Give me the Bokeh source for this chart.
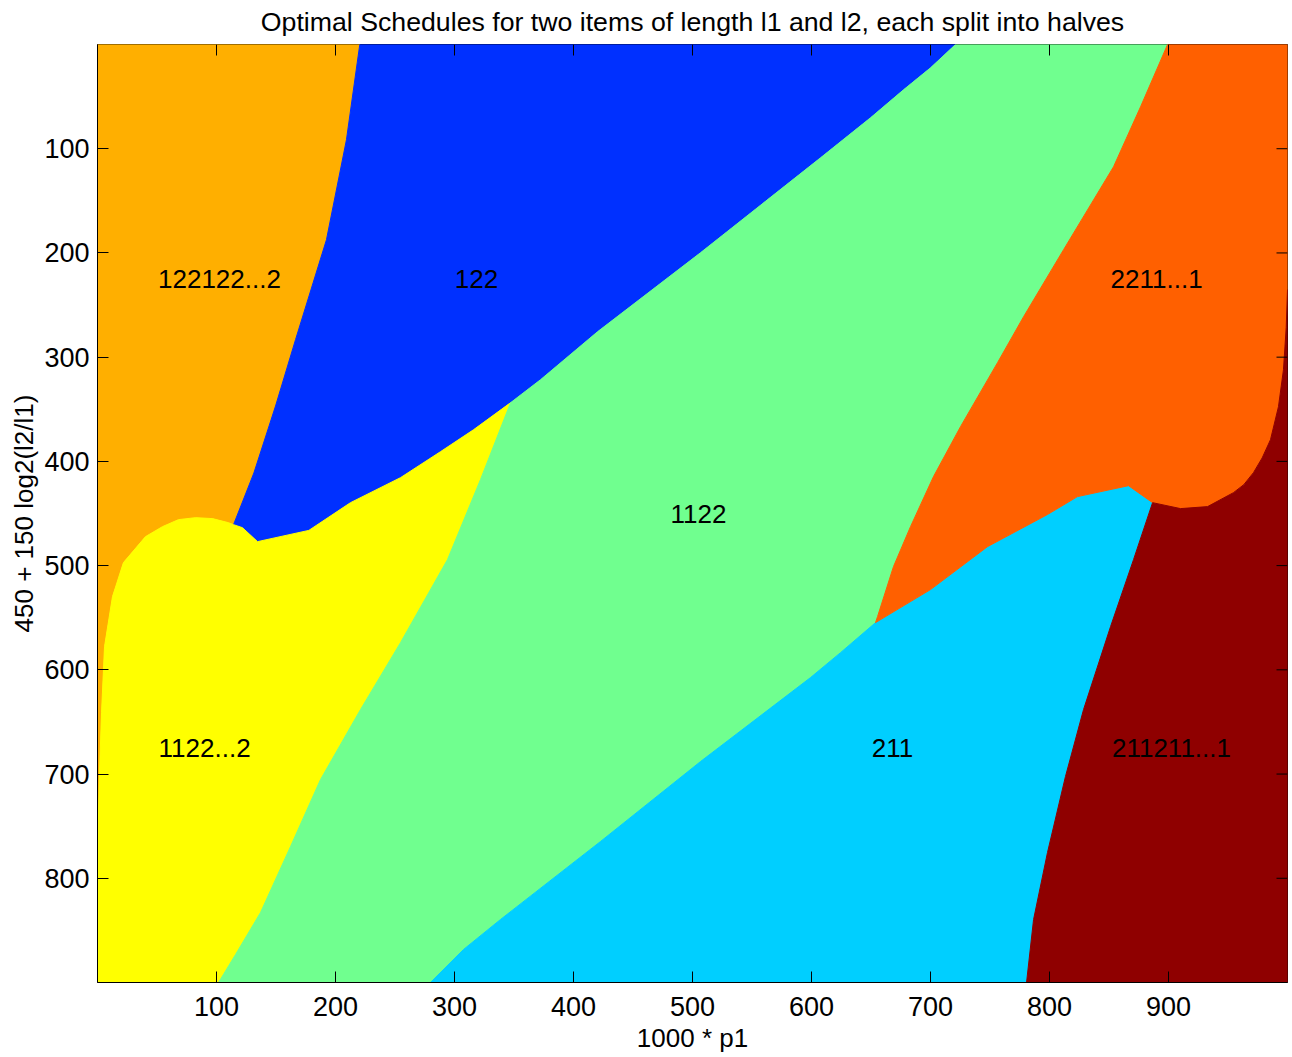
import math
from bokeh.plotting import figure
from bokeh.models import Range1d, FixedTicker, ColumnDataSource
from bokeh.embed import file_html
from bokeh.resources import INLINE
from bokeh.core.properties import value

FONT = "Liberation Sans"
TITLE = "Optimal Schedules for two items of length l1 and l2, each split into halves"

# Region boundaries (x = 1000*p1, y = 450 + 150 log2(l2/l1))
# orange / blue
ob_x = [220.4, 209.2, 192.4, 166.4, 149.6, 131.4, 114.3]
ob_y = [0.0, 91.4, 187.3, 283.2, 346.9, 411.1, 460.7]
# orange / yellow (from left edge to triple point)
oy_x = [0.0, 1.7, 3.4, 5.9, 12.6, 21.8, 40.3, 54.6, 68.0, 82.4, 96.6, 110.0, 114.3]
oy_y = [780.0, 698.6, 641.0, 577.7, 529.7, 497.1, 472.2, 462.6, 455.9, 454.0, 454.9, 458.8, 460.7]
# blue / yellow
by_x = [114.3, 121.8, 134.5, 177.6, 212.6, 254.6, 288.2, 316.0, 347.1]
by_y = [460.7, 463.6, 477.0, 466.2, 439.6, 415.6, 390.7, 369.6, 343.7]
# blue / green
bg_x = [347.1, 372.3, 420.2, 506.7, 607.6, 649.6, 677.3, 700.0, 721.0]
bg_y = [343.7, 321.6, 275.6, 199.8, 108.7, 70.3, 43.5, 22.4, 0.0]
# yellow / green
yg_x = [347.1, 321.8, 294.1, 254.6, 221.0, 187.4, 162.2, 137.0, 116.0, 101.7]
yg_y = [343.7, 417.5, 494.2, 573.9, 638.1, 705.2, 769.5, 832.8, 873.1, 900.0]
# green / orange-red
go_x = [899.2, 876.5, 853.8, 811.8, 778.2, 756.3, 725.2, 702.5, 683.2, 668.9, 655.5, 653.8]
go_y = [0.0, 59.8, 117.3, 196.9, 261.2, 305.3, 366.7, 414.6, 462.6, 500.9, 548.9, 554.7]
# green / cyan
gc_x = [653.8, 624.4, 599.2, 506.7, 422.7, 338.7, 307.6, 279.8]
gc_y = [554.7, 583.5, 607.4, 688.0, 764.7, 839.5, 868.3, 900.0]
# orange-red / cyan
oc_x = [653.8, 700.0, 747.9, 798.3, 823.5, 866.4, 886.6]
oc_y = [554.7, 523.0, 481.8, 451.0, 433.8, 423.3, 439.6]
# cyan / dark red
cd_x = [886.6, 870.6, 851.3, 828.6, 813.4, 798.3, 786.6, 780.7]
cd_y = [439.6, 494.3, 558.5, 638.1, 702.4, 775.3, 839.6, 900.0]
# orange-red / dark red
od_x = [886.6, 910.1, 932.8, 954.6, 963.3, 971.4, 978.7, 985.7, 992.4, 996.6, 998.9, 1000.0]
od_y = [439.6, 445.3, 443.4, 430.0, 422.3, 410.8, 396.7, 379.2, 347.5, 312.0, 271.7, 235.3]

X_MIN, X_MAX = 0.0, 1000.0
Y_MIN, Y_MAX = 0.0, 900.0

schedules = ["122122...2", "122", "1122...2", "1122", "211", "2211...1", "211211...1"]
colors = ["#FFAF00", "#0030FF", "#FFFF00", "#70FF8F", "#00CFFF", "#FF6000", "#8F0000"]
label_x = [102.5, 318.5, 90.0, 505.0, 668.0, 890.0, 902.5]
label_y = [225.0, 225.0, 675.0, 450.0, 675.0, 225.0, 675.0]

x_ticks = [100, 200, 300, 400, 500, 600, 700, 800, 900]
y_ticks = [100, 200, 300, 400, 500, 600, 700, 800]

r = lambda a: a[::-1]
region_x = [
    [X_MIN] + ob_x + r(oy_x),
    r(ob_x) + r(bg_x) + r(by_x),
    [X_MIN] + oy_x + by_x + yg_x,
    r(yg_x) + bg_x + go_x + gc_x,
    r(gc_x) + oc_x + cd_x,
    r(go_x) + [X_MAX] + r(od_x) + r(oc_x),
    od_x + [X_MAX] + r(cd_x),
]
region_y = [
    [Y_MIN] + ob_y + r(oy_y),
    r(ob_y) + r(bg_y) + r(by_y),
    [Y_MAX] + oy_y + by_y + yg_y,
    r(yg_y) + bg_y + go_y + gc_y,
    r(gc_y) + oc_y + cd_y,
    r(go_y) + [Y_MIN] + r(od_y) + r(oc_y),
    od_y + [Y_MAX] + r(cd_y),
]

p = figure(width=1292, height=1057, output_backend="svg", toolbar_location=None,
           x_range=Range1d(X_MIN, X_MAX), y_range=Range1d(Y_MAX, Y_MIN),
           min_border_left=97, min_border_right=5, min_border_top=44, min_border_bottom=75,
           title=TITLE)
p.title.text_font = FONT
p.title.text_font_size = "26.7px"
p.title.text_font_style = "normal"
p.title.text_color = "black"
p.title.align = "center"
p.title.vertical_align = "top"
p.title.standoff = 12
p.grid.visible = False
p.outline_line_color = "black"
p.outline_line_width = 1
p.background_fill_color = "white"

src = ColumnDataSource(dict(xs=region_x, ys=region_y, color=colors))
p.patches("xs", "ys", source=src, fill_color="color", line_color="color", line_width=1)

lab = ColumnDataSource(dict(x=label_x, y=label_y, t=schedules))
p.text("x", "y", text="t", source=lab, text_font=value(FONT), text_font_size="26px",
       text_align="center", text_baseline="middle", text_color="black")

# inward ticks on the top and right edges
p.ray(x=x_ticks, y=[Y_MIN] * len(x_ticks), length=11, length_units="screen",
      angle=-math.pi / 2, line_color="black", line_width=1)
p.ray(x=[X_MAX] * len(y_ticks), y=y_ticks, length=11, length_units="screen",
      angle=math.pi, line_color="black", line_width=1)

for ax, ticks in ((p.xaxis[0], x_ticks), (p.yaxis[0], y_ticks)):
    ax.ticker = FixedTicker(ticks=ticks)
    ax.major_tick_in = 11
    ax.major_tick_out = 0
    ax.minor_tick_line_color = None
    ax.major_tick_line_color = "black"
    ax.axis_line_color = "black"
    ax.major_label_text_font = FONT
    ax.major_label_text_font_size = "27px"
    ax.major_label_text_color = "black"
    ax.axis_label_text_font = FONT
    ax.axis_label_text_font_size = "26px"
    ax.axis_label_text_font_style = "normal"
    ax.axis_label_text_color = "black"

p.xaxis.axis_label = "1000 * p1"
p.yaxis.axis_label = "450 + 150 log2(l2/l1)"
p.xaxis.major_label_standoff = 14
p.yaxis.major_label_standoff = 8
p.xaxis.axis_label_standoff = 4
p.yaxis.axis_label_standoff = 2

open("out.html", "w").write(file_html(p, INLINE))
